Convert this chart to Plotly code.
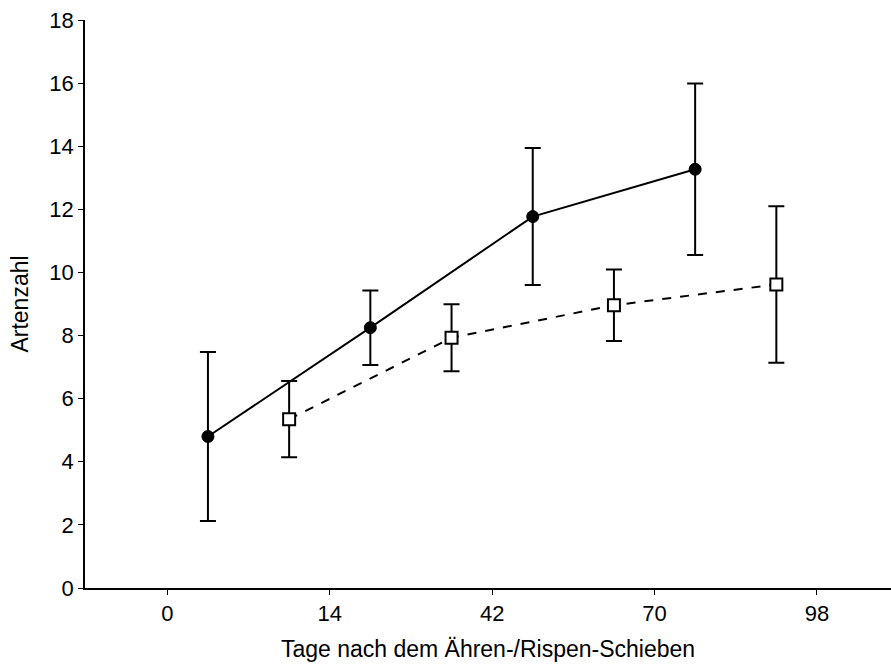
import plotly.graph_objects as go

tick_labels = ["0", "14", "42", "70", "98"]
tick_pos = [0, 1, 2, 3, 4]

# Series 1 (filled circles)
x_filled = [0.25, 1.25, 2.25, 3.25]
y_filled = [4.8, 8.25, 11.77, 13.27]
err_filled = [2.68, 1.18, 2.17, 2.72]

# Series 2 (open squares)
x_open = [0.75, 1.75, 2.75, 3.75]
y_open = [5.35, 7.93, 8.96, 9.62]
err_open = [1.21, 1.06, 1.13, 2.48]

FONT = "Liberation Sans, Arial, sans-serif"
FS_TICK = 22
FS_TITLE = 23

fig = go.Figure()
fig.add_trace(go.Scatter(
    x=x_filled, y=y_filled, mode="lines+markers",
    line=dict(color="black", width=2),
    marker=dict(symbol="circle", size=12, color="black", line=dict(color="black", width=1)),
    error_y=dict(type="data", array=err_filled, visible=True, color="black", thickness=2, width=8),
    showlegend=False,
))
fig.add_trace(go.Scatter(
    x=x_open, y=y_open, mode="lines+markers",
    line=dict(color="black", width=2, dash="dash"),
    marker=dict(symbol="square", size=12, color="white", line=dict(color="black", width=2)),
    error_y=dict(type="data", array=err_open, visible=True, color="black", thickness=2, width=8),
    showlegend=False,
))

fig.update_layout(
    width=891, height=666,
    margin=dict(l=85, r=0, t=20, b=78),
    paper_bgcolor="white", plot_bgcolor="white",
    font=dict(family=FONT, size=FS_TICK, color="black"),
    xaxis=dict(
        range=[-0.507, 4.456], tickvals=tick_pos, ticktext=tick_labels,
        showgrid=False, zeroline=False, showline=True, linecolor="black", linewidth=1.5,
        ticks="outside", ticklen=5, tickcolor="black", tickwidth=1,
        tickfont=dict(size=FS_TICK),
        title=dict(text="Tage nach dem Ähren-/Rispen-Schieben", font=dict(size=FS_TITLE), standoff=16),
    ),
    yaxis=dict(
        range=[0, 18], tickvals=list(range(0, 19, 2)),
        showgrid=False, zeroline=False, showline=True, linecolor="black", linewidth=1.5,
        ticks="outside", ticklen=5, tickcolor="black", tickwidth=1,
        tickfont=dict(size=FS_TICK),
        title=dict(text="Artenzahl", font=dict(size=FS_TITLE), standoff=14),
    ),
)

fig.write_html("out.html")
